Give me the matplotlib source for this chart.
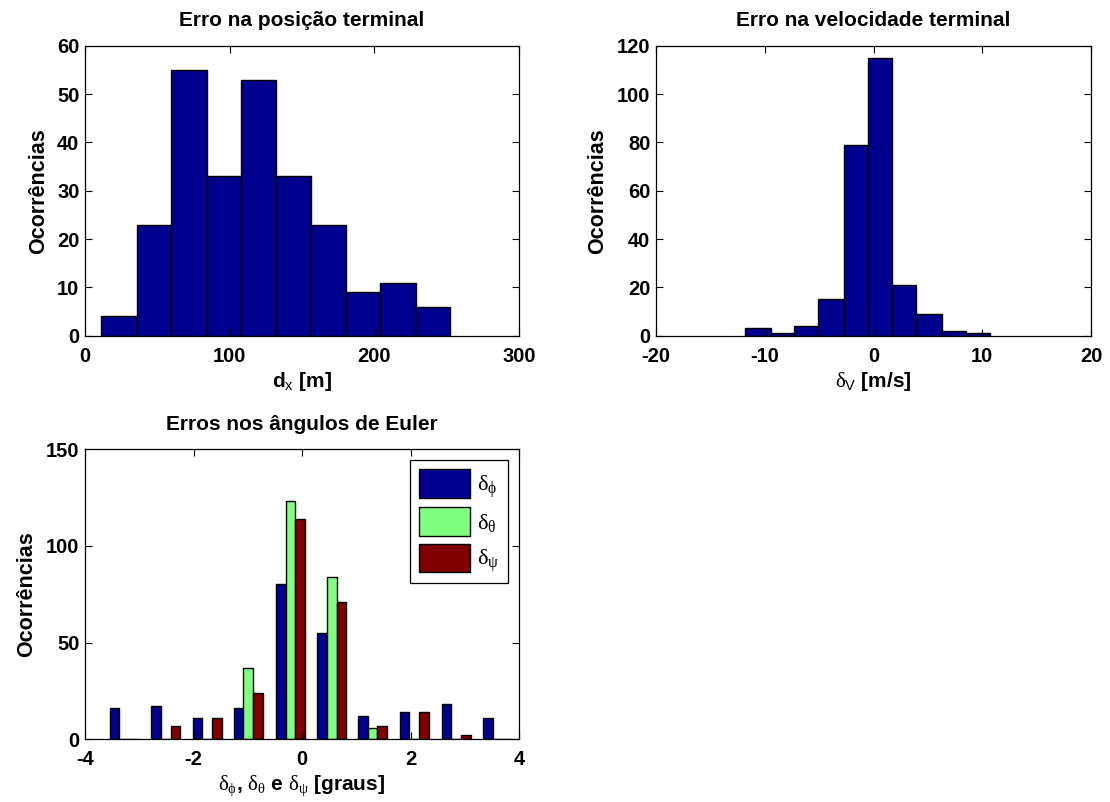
import numpy as np
import matplotlib
matplotlib.use("Agg")
import matplotlib.pyplot as plt

plt.rcParams['font.family'] = ['Liberation Sans', 'DejaVu Sans']
plt.rcParams['font.weight'] = 'bold'
plt.rcParams['axes.titleweight'] = 'bold'
plt.rcParams['axes.labelweight'] = 'bold'
plt.rcParams['axes.unicode_minus'] = False
plt.rcParams['mathtext.fontset'] = 'custom'
plt.rcParams['mathtext.rm'] = 'Liberation Serif:weight=normal'
plt.rcParams['mathtext.it'] = 'Liberation Serif:weight=normal'
plt.rcParams['mathtext.sf'] = 'Liberation Sans:weight=normal'

# --- Terminal position error histogram ---
pos_edges = [11.0, 35.7, 59.4, 84.1, 107.6, 132.3, 156.0, 180.4, 204.0, 228.5, 252.2]
pos_counts = [4, 23, 55, 33, 53, 33, 23, 9, 11, 6]

# --- Terminal velocity error histogram ---
vel_edges = [-11.82, -9.45, -7.28, -5.07, -2.71, -0.47, 1.73, 3.94, 6.27, 8.51, 10.71]
vel_counts = [3, 1, 4, 15, 79, 115, 21, 9, 2, 1]

# --- Euler angle errors (grouped bars) ---
euler_centers = [-3.28, -2.51, -1.75, -0.99, -0.215, 0.55, 1.30, 2.07, 2.84, 3.61]
phi_counts = [16, 17, 11, 16, 80, 55, 12, 14, 18, 11]
theta_counts = [0, 0, 0, 37, 123, 84, 6, 0, 0, 0]
psi_counts = [0, 7, 11, 24, 114, 71, 7, 14, 2, 0]
euler_labels = [r'$\delta_{\phi}$', r'$\delta_{\theta}$', r'$\delta_{\psi}$']

NAVY = '#00008F'
LGREEN = '#80FF80'
DRED = '#800000'
FS = 14.5

W, H = 1110, 802
fig = plt.figure(figsize=(W / 100, H / 100), dpi=100)


def ax_at(x0, x1, y0, y1):
    return fig.add_axes([x0 / W, 1 - y1 / H, (x1 - x0) / W, (y1 - y0) / H])


def style(ax):
    ax.tick_params(direction='in', top=True, right=True, length=5,
                   labelsize=FS, width=0.8)
    ax.tick_params(axis='x', pad=8)
    ax.tick_params(axis='y', pad=4)
    for s in ax.spines.values():
        s.set_linewidth(0.9)


def titles(ax, title, ylabel, xlabel):
    ax.set_title(title, fontsize=15, pad=14)
    ax.set_ylabel(ylabel, fontsize=15.5, labelpad=6)
    ax.set_xlabel(xlabel, fontsize=15, labelpad=3)


ax1 = ax_at(85, 519, 45.7, 335.7)
ax1.bar(np.array(pos_edges[:-1]), pos_counts, width=np.diff(pos_edges),
        align='edge', color=NAVY, edgecolor='black', linewidth=1.0)
ax1.set_xlim(0, 300)
ax1.set_ylim(0, 60)
ax1.set_xticks([0, 100, 200, 300])
ax1.set_yticks(range(0, 61, 10))
titles(ax1, 'Erro na posição terminal', 'Ocorrências', r'd$_\mathsf{x}$ [m]')
style(ax1)

ax2 = ax_at(656, 1091, 45.7, 335.7)
ax2.bar(np.array(vel_edges[:-1]), vel_counts, width=np.diff(vel_edges),
        align='edge', color=NAVY, edgecolor='black', linewidth=1.0)
ax2.set_xlim(-20, 20)
ax2.set_ylim(0, 120)
ax2.set_xticks([-20, -10, 0, 10, 20])
ax2.set_yticks(range(0, 121, 20))
titles(ax2, 'Erro na velocidade terminal', 'Ocorrências',
       r'$\delta_\mathsf{V}$ [m/s]')
style(ax2)

ax3 = ax_at(85, 519, 449, 739.3)
bw = 0.178
centers = np.array(euler_centers)
for vals, off, col, lab in zip([phi_counts, theta_counts, psi_counts],
                               [-bw, 0.0, bw], [NAVY, LGREEN, DRED],
                               euler_labels):
    ax3.bar(centers + off, vals, width=bw, color=col, edgecolor='black',
            linewidth=1.0, label=lab)
ax3.set_xlim(-4, 4)
ax3.set_ylim(0, 150)
ax3.set_xticks([-4, -2, 0, 2, 4])
ax3.set_yticks([0, 50, 100, 150])
titles(ax3, 'Erros nos ângulos de Euler', 'Ocorrências',
       r'$\delta_{\phi}$, $\delta_{\theta}$ e $\delta_{\psi}$ [graus]')
style(ax3)
leg = ax3.legend(loc='upper right', fontsize=FS + 1.5, handlelength=2.3,
                 handleheight=1.6, labelspacing=0.35, handletextpad=0.3,
                 borderpad=0.4, borderaxespad=0.5, fancybox=False,
                 framealpha=1, edgecolor='black')
leg.get_frame().set_linewidth(0.9)

fig.savefig('out.png', dpi=100)
